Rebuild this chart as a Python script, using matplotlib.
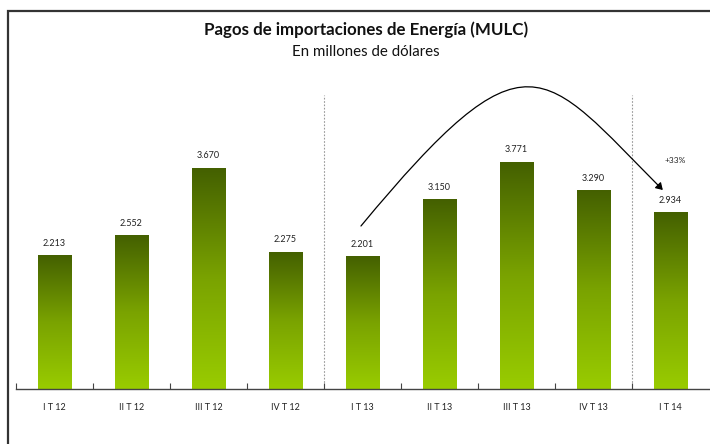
import numpy as np
import matplotlib
matplotlib.use("Agg")
import matplotlib.pyplot as plt
from matplotlib.path import Path
from matplotlib.patches import FancyArrowPatch, Rectangle
from matplotlib.colors import LinearSegmentedColormap

categories = ["I T 12", "II T 12", "III T 12", "IV T 12", "I T 13", "II T 13", "III T 13", "IV T 13", "I T 14"]
values = [2213, 2552, 3670, 2275, 2201, 3150, 3771, 3290, 2934]
value_labels = ["2.213", "2.552", "3.670", "2.275", "2.201", "3.150", "3.771", "3.290", "2.934"]
title = "Pagos de importaciones de Energía (MULC)"
subtitle = "En millones de dólares"
annotation = "+33%"

plt.rcParams['font.family'] = ['Lato', 'DejaVu Sans']

fig = plt.figure(figsize=(7.10, 4.44), dpi=100)
fig.patch.set_facecolor("white")

# figure frame (left and top visible)
fig.add_artist(Rectangle((8/710, -0.05), 1.2, (444-11)/444 + 0.05, transform=fig.transFigure,
                         fill=False, edgecolor="#333333", linewidth=1.6))

ax = fig.add_axes([16/710, 55/444, 693/710, 313/444])
x = np.arange(len(categories))
bars = ax.bar(x, values, width=0.44, color="none", edgecolor="none", zorder=2)

cmap = LinearSegmentedColormap.from_list("g", ["#99cc00", "#7aa300", "#446000"])
grad = np.linspace(0, 1, 256).reshape(-1, 1)
for b in bars:
    x0, w, h = b.get_x(), b.get_width(), b.get_height()
    ax.imshow(grad, extent=(x0, x0 + w, 0, h), origin="lower", cmap=cmap,
              aspect="auto", zorder=2, interpolation="bicubic")

ax.set_xlim(-0.5, len(categories) - 0.5)
ax.set_ylim(0, 5200)

for xi, v, lab in zip(x, values, value_labels):
    ax.text(xi, v + 130, lab, ha="center", va="bottom", fontsize=6.5, color="#222222")

# separators
for sx in [3.5, 7.5]:
    ax.plot([sx, sx], [0, 4880], color="#999999", linestyle=(0, (1.5, 1.5)), linewidth=0.8, zorder=1)

# curved arrow
verts = [(3.98, 2708), (6.145, 6047), (6.325, 5332), (7.90, 3306)]
path = Path(verts, [Path.MOVETO, Path.CURVE4, Path.CURVE4, Path.CURVE4])
arrow = FancyArrowPatch(path=path, arrowstyle="-|>,head_length=4,head_width=2.5",
                        color="black", linewidth=0.9, clip_on=False, zorder=3)
ax.add_patch(arrow)
ax.text(8.06, 3804, annotation, ha="center", va="center", fontsize=6, color="#222222")

for s in ["top", "right", "left"]:
    ax.spines[s].set_visible(False)
ax.spines["bottom"].set_color("#444444")
ax.spines["bottom"].set_linewidth(1.0)
ax.set_yticks([])
ax.set_xticks(np.arange(-0.5, len(categories) - 0.5, 1.0))
ax.set_xticklabels([])
ax.tick_params(axis="x", direction="in", length=4, color="#444444", width=0.8)
ax.set_xticks(x, minor=True)
ax.set_xticklabels(categories, minor=True, fontsize=6.5, color="#222222")
ax.tick_params(axis="x", which="minor", length=0, pad=10)

fig.text(366/710, 1 - 30/444, title, ha="center", va="center", fontsize=12.2, fontweight="bold", color="#111111")
fig.text(366/710, 1 - 52/444, subtitle, ha="center", va="center", fontsize=10.8, color="#111111")

fig.savefig("out.png", dpi=100, facecolor="white")
